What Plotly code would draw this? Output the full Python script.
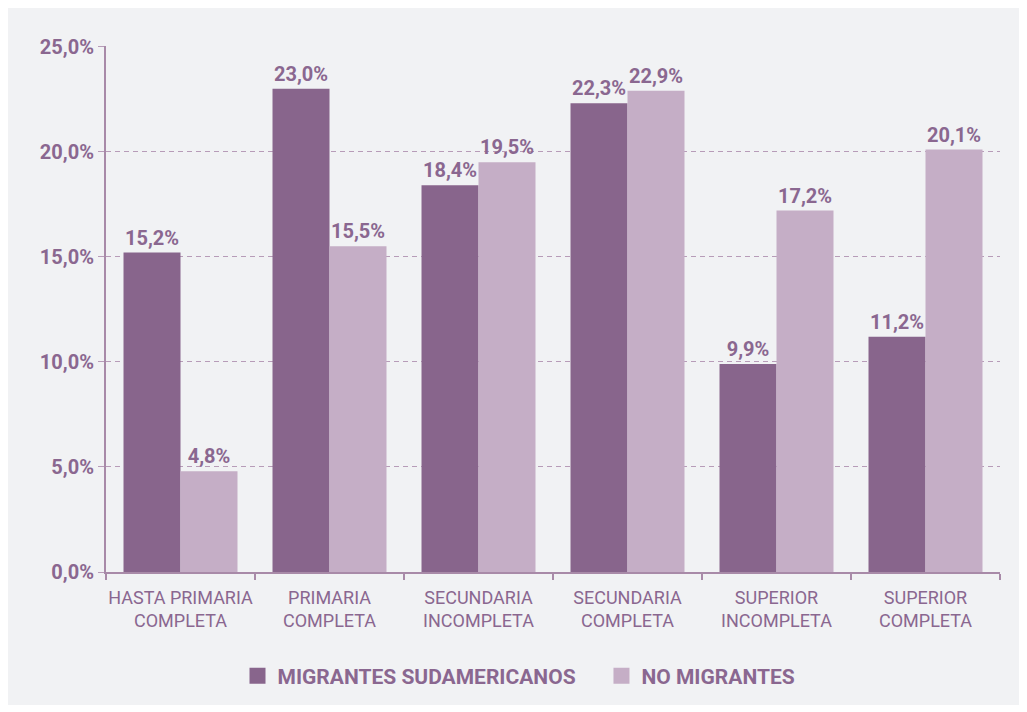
import plotly.graph_objects as go

categories = ["HASTA PRIMARIA<br>COMPLETA", "PRIMARIA<br>COMPLETA", "SECUNDARIA<br>INCOMPLETA",
              "SECUNDARIA<br>COMPLETA", "SUPERIOR<br>INCOMPLETA", "SUPERIOR<br>COMPLETA"]
migrantes = [15.2, 23.0, 18.4, 22.3, 9.9, 11.2]
no_migrantes = [4.8, 15.5, 19.5, 22.9, 17.2, 20.1]
series_names = ["MIGRANTES SUDAMERICANOS", "NO MIGRANTES"]

DARK = "#88658c"
LIGHT = "#c5aec6"
TXT = "#8a6790"
FONT = "Roboto, Inter, sans-serif"

def fmt(v):
    return f"{v:.1f}%".replace(".", ",")

# page body adds an 8px offset; compensate
OFF = 8
W, H = 1027 - OFF, 712 - OFF
L, R, T, B = 106 - OFF, W - (1000 - OFF), 46 - OFF, 140
pw, ph = W - L - R, H - T - B

fig = go.Figure()
for name, vals, col in [(series_names[0], migrantes, DARK), (series_names[1], no_migrantes, LIGHT)]:
    fig.add_trace(go.Bar(
        x=categories, y=vals, name=name, marker=dict(color=col, line=dict(width=0)),
        text=[fmt(v) for v in vals], textposition="outside", cliponaxis=False,
        textfont=dict(family=FONT, size=20, color=TXT, weight="bold"),
        hoverinfo="skip", showlegend=False,
    ))
legend_labels = [series_names[0] + "\u00a0" * 4, series_names[1]]
for name, col in [(legend_labels[0], DARK), (legend_labels[1], LIGHT)]:
    fig.add_trace(go.Scatter(
        x=[None], y=[None], mode="markers", name=name,
        marker=dict(symbol="square", size=16, color=col), showlegend=True,
    ))

fig.add_shape(type="rect", xref="paper", yref="paper", layer="below",
              x0=(7 - OFF - L) / pw, x1=(1020 - OFF - L) / pw,
              y0=(H - B - (705 - OFF)) / ph, y1=(H - B - (7 - OFF)) / ph,
              fillcolor="#f1f2f4", line=dict(width=0))

legend_center_fig = 526 - OFF - 7
fig.update_layout(
    width=W, height=H, margin=dict(l=L, r=R, t=T, b=B, autoexpand=False),
    paper_bgcolor="white", plot_bgcolor="rgba(0,0,0,0)",
    barmode="group", bargap=0.235, bargroupgap=0,
    separators=",.",
    font=dict(family=FONT, color=TXT),
    showlegend=True,
    legend=dict(orientation="h", x=(legend_center_fig - L) / pw, xanchor="center",
                y=(H - B - (676 - OFF)) / ph, yanchor="middle",
                font=dict(family=FONT, size=21, color=TXT, weight="bold"),
                itemwidth=30, tracegroupgap=0, bgcolor="rgba(0,0,0,0)"),
    xaxis=dict(showline=True, linecolor="#a88aa8", linewidth=2,
               tickson="boundaries", ticks="outside", ticklen=6, tickcolor="#a88aa8", tickwidth=2,
               ticklabelstandoff=8, tickangle=0,
               tickfont=dict(family=FONT, size=18, color=TXT), showgrid=False, fixedrange=True),
    yaxis=dict(range=[0, 25.03], dtick=5, tickformat=".1f", ticksuffix="%",
               showline=True, linecolor="#a88aa8", linewidth=2,
               ticks="outside", ticklen=6, tickcolor="#b79cb8", tickwidth=1.3,
               showgrid=True, gridcolor="#b79cb8", griddash="5px,4px", gridwidth=1.3,
               zeroline=False,
               tickfont=dict(family=FONT, size=20, color=TXT, weight="bold"), fixedrange=True),
)

fig.write_html("out.html")
